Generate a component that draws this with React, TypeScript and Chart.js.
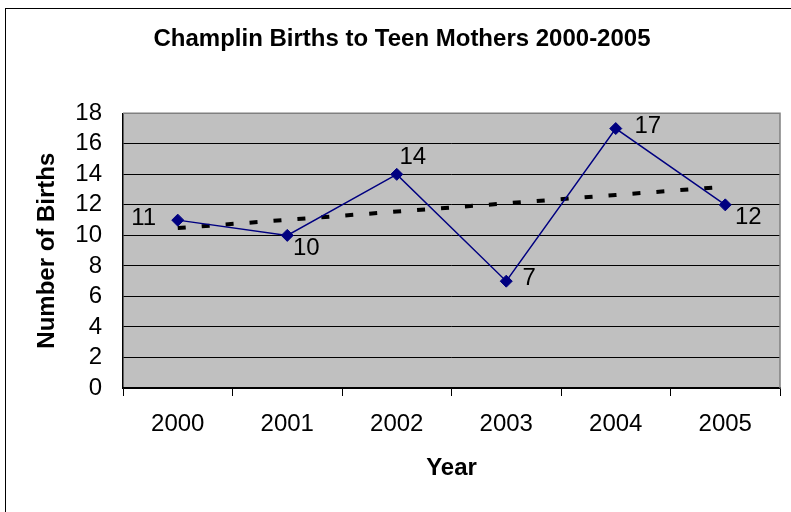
import React, { useEffect, useRef } from "react";
import { Chart, registerables } from "chart.js";

Chart.register(...registerables);

const years = ["2000", "2001", "2002", "2003", "2004", "2005"];
const births = [11, 10, 14, 7, 17, 12];
const trend = [10.48, 11.02, 11.56, 12.1, 12.65, 13.19];
const titleText = "Champlin Births to Teen Mothers 2000-2005";
const yTitle = "Number of Births";
const xTitle = "Year";
// label offsets relative to each point (pixels)
const labelOffsets: [number, number][] = [
  [-34, -2],
  [19, 13],
  [16, -17],
  [23, -3],
  [32, -2],
  [23, 13],
];

const FONT = "'Liberation Sans', Arial, sans-serif";

export default function App() {
  const ref = useRef<HTMLCanvasElement | null>(null);

  useEffect(() => {
    document.body.style.margin = "0";
    const canvas = ref.current!;
    const bgPlugin = {
      id: "bg",
      beforeDraw(chart: any) {
        const { ctx, chartArea } = chart;
        ctx.save();
        ctx.fillStyle = "#fff";
        ctx.fillRect(0, 0, chart.width, chart.height);
        ctx.strokeStyle = "#000";
        ctx.lineWidth = 1;
        ctx.strokeRect(5.5, 8.5, 900, 600);
        ctx.fillStyle = "#C0C0C0";
        ctx.fillRect(chartArea.left, chartArea.top, chartArea.right - chartArea.left, chartArea.bottom - chartArea.top);
        ctx.restore();
      },
      beforeDatasetsDraw(chart: any) {
        const { ctx, chartArea } = chart;
        ctx.save();
        ctx.strokeStyle = "#808080";
        ctx.lineWidth = 1.5;
        ctx.beginPath();
        ctx.moveTo(chartArea.left, chartArea.top);
        ctx.lineTo(chartArea.right, chartArea.top);
        ctx.lineTo(chartArea.right, chartArea.bottom);
        ctx.stroke();
        ctx.restore();
      },
      afterDatasetsDraw(chart: any) {
        const { ctx } = chart;
        const meta = chart.getDatasetMeta(0);
        ctx.save();
        ctx.font = `24px ${FONT}`;
        ctx.fillStyle = "#000";
        ctx.textAlign = "center";
        ctx.textBaseline = "middle";
        meta.data.forEach((pt: any, i: number) => {
          const [dx, dy] = labelOffsets[i];
          ctx.fillText(String(births[i]), pt.x + dx, pt.y + dy);
        });
        ctx.restore();
      },
    };

    const chart = new Chart(canvas, {
      type: "line",
      data: {
        labels: years,
        datasets: [
          {
            data: births,
            borderColor: "#000080",
            backgroundColor: "#000080",
            borderWidth: 1.5,
            pointStyle: "rectRot",
            pointRadius: 6,
            pointBorderWidth: 1,
            pointBackgroundColor: "#000080",
            pointBorderColor: "#000080",
            tension: 0,
          },
          {
            data: trend,
            borderColor: "#000",
            borderWidth: 4,
            borderDash: [8, 16],
            pointRadius: 0,
            tension: 0,
          },
        ],
      },
      plugins: [bgPlugin],
      options: {
        responsive: false,
        animation: false,
        devicePixelRatio: 1,
        layout: { padding: { left: 24, right: 11, top: 11, bottom: 0 } },
        plugins: {
          legend: { display: false },
          tooltip: { enabled: false },
          title: {
            display: true,
            text: titleText,
            color: "#000",
            font: { family: FONT, size: 24, weight: "bold" },
            padding: { top: 14, bottom: 59.5 },
          },
        },
        scales: {
          x: {
            offset: true,
            grid: {
              offset: true,
              drawOnChartArea: false,
              drawTicks: true,
              tickLength: 8,
              color: "#000",
            },
            border: { color: "#000", width: 1.5 },
            ticks: { color: "#000", font: { family: FONT, size: 24 }, padding: 14, maxRotation: 0, autoSkip: false },
            title: {
              display: true,
              text: xTitle,
              color: "#000",
              font: { family: FONT, size: 24, weight: "bold" },
              padding: { top: 0, bottom: 29 },
            },
            afterFit(scale: any) {
              scale.height = 124;
            },
          },
          y: {
            min: 0,
            max: 18,
            ticks: { stepSize: 2, color: "#000", font: { family: FONT, size: 24 }, padding: 21, autoSkip: false },
            grid: { color: "#000", lineWidth: 1, drawTicks: false },
            border: { color: "#000", width: 1.5 },
            title: {
              display: true,
              text: yTitle,
              color: "#000",
              font: { family: FONT, size: 24, weight: "bold" },
              padding: { top: 9, bottom: 0 },
            },
            afterFit(scale: any) {
              scale.width = 99;
            },
          },
        },
      },
    } as any);
    return () => chart.destroy();
  }, []);

  return <canvas ref={ref} width={791} height={512} style={{ display: "block", width: 791, height: 512 }} />;
}
